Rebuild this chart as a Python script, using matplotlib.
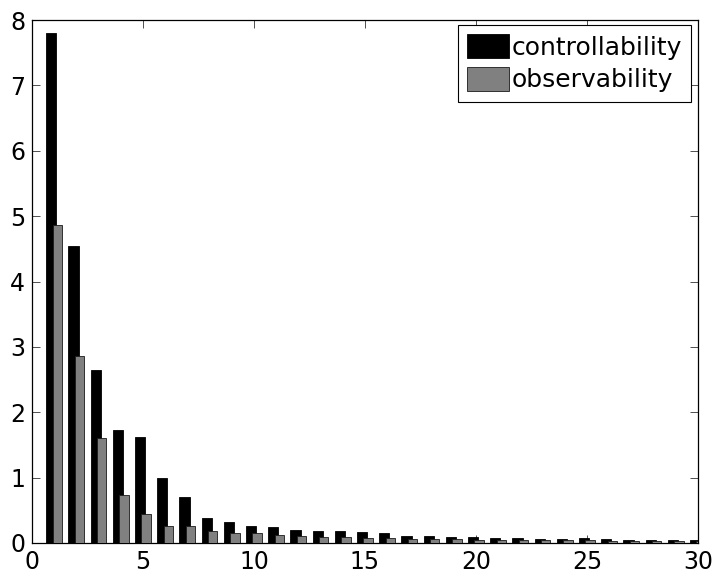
import matplotlib
matplotlib.use("Agg")
import matplotlib.pyplot as plt
import numpy as np

plt.rcParams['font.family'] = ['DejaVu Sans']

# Singular-value index
index = list(range(1, 31))

controllability = [7.80, 4.54, 2.64, 1.73, 1.62, 1.00, 0.71, 0.39, 0.32, 0.26,
                   0.25, 0.20, 0.19, 0.18, 0.165, 0.16, 0.11, 0.10, 0.09, 0.09,
                   0.08, 0.08, 0.065, 0.06, 0.07, 0.055, 0.05, 0.05, 0.045, 0.045]

observability = [4.86, 2.86, 1.60, 0.73, 0.45, 0.255, 0.255, 0.19, 0.16, 0.16,
                 0.12, 0.11, 0.09, 0.09, 0.07, 0.075, 0.06, 0.055, 0.055, 0.05,
                 0.045, 0.045, 0.04, 0.04, 0.04, 0.035, 0.035, 0.035, 0.03, 0.03]

series_labels = ['controllability', 'observability']
xticks = [0, 5, 10, 15, 20, 25, 30]
yticks = [0, 1, 2, 3, 4, 5, 6, 7, 8]

W, H = 716, 581
fig = plt.figure(figsize=(W / 100, H / 100), dpi=100)
ax = fig.add_axes([32 / W, 1 - 543 / H, (698 - 32) / W, (543 - 20) / H])

x = np.array(index, dtype=float)
ax.bar(x - 0.13, controllability, width=0.46, color='#000000',
       edgecolor='#000000', linewidth=0.6, label=series_labels[0], zorder=2)
ax.bar(x + 0.14, observability, width=0.42, color='#808080',
       edgecolor='#1a1a1a', linewidth=0.6, label=series_labels[1], zorder=3)

ax.set_xlim(0, 30)
ax.set_ylim(0, 8)
ax.set_xticks(xticks)
ax.set_yticks(yticks)
ax.tick_params(direction='in', length=6, width=0.6, top=True, right=True,
               labelsize=17, pad=5, color='#333333')
for s in ax.spines.values():
    s.set_linewidth(0.9)
    s.set_color('black')

leg = ax.legend(loc='upper right',
                bbox_to_anchor=((691 - 32) / (698 - 32), (543 - 25) / (543 - 20)),
                borderaxespad=0, fontsize=18, frameon=True, fancybox=False,
                handlelength=1.68, handleheight=1.1, handletextpad=0.12,
                borderpad=0.36, labelspacing=0.3, edgecolor='black')
leg.get_frame().set_linewidth(0.8)
leg.get_frame().set_alpha(1)

fig.savefig('out.png', dpi=100)
